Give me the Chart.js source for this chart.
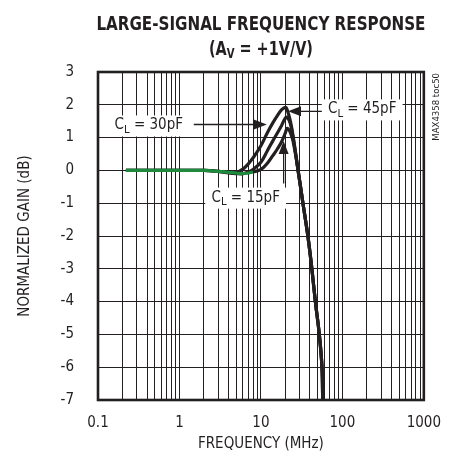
<!DOCTYPE html>
<html>
<head>
<meta charset="utf-8">
<script src="https://cdn.jsdelivr.net/npm/chart.js@4.4.1/dist/chart.umd.min.js"></script>
<style>
  html, body { margin: 0; padding: 0; background: #fff; }
  #wrap { width: 455px; height: 457px; position: relative; }
</style>
</head>
<body>
<div id="wrap"><canvas id="chart" width="455" height="457"></canvas></div>
<script>
// frequências (MHz) e ganhos
const freqs = [0.22, 0.5, 1, 2, 3, 4, 5, 6, 7, 8, 10, 12, 14, 16, 18, 20, 21, 23, 25, 28.6, 32.8, 37.7, 42.2, 46.6, 52.1, 56.2, 57.3];
const gain45 = [0, 0, 0, 0, -0.03, -0.06, -0.06, 0.04, 0.2, 0.38, 0.75, 1.15, 1.45, 1.68, 1.85, 1.92, 1.85, 1.5, 1.0, 0, -1.0, -2.0, -3.0, -4.0, -5.0, -6.0, -7.0];
const gain30 = [0, 0, 0, 0, -0.03, -0.08, -0.1, -0.1, -0.05, 0.03, 0.25, 0.6, 0.9, 1.15, 1.38, 1.6, 1.62, 1.42, 0.95, 0, -1.0, -2.0, -3.0, -4.0, -5.0, -6.0, -7.0];
const gain15 = [0, 0, 0, 0, -0.03, -0.06, -0.08, -0.1, -0.08, -0.05, 0.03, 0.22, 0.45, 0.66, 0.88, 1.15, 1.28, 1.15, 0.85, 0, -1.0, -2.0, -3.0, -4.0, -5.0, -6.0, -7.0];
const xTickLabels = [0.1, 1, 10, 100, 1000];
const yTicks = [3, 2, 1, 0, -1, -2, -3, -4, -5, -6, -7];

// anotações (coordenadas em dados)
const notes = [
  { text: '30pF', tx: 0.42, ty: 1.37, ax0: 1.5, ay0: 1.4, ax1: 11.8, ay1: 1.4 },
  { text: '45pF', tx: 175, ty: 1.86, ax0: 56, ay0: 1.8, ax1: 21.5, ay1: 1.8 },
  { text: '15pF', tx: 6.5, ty: -0.83, ax0: 19, ay0: -0.4, ax1: 19, ay1: 0.9 }
];

const INK = '#231f20';
const GREEN = '#1d8a3c';
const FONT = '"Liberation Sans Narrow", "DejaVu Sans Condensed", "Liberation Sans", sans-serif';

const mk = (arr, green) => ({
  data: freqs.map((f, i) => ({ x: f, y: arr[i] })),
  borderColor: INK,
  borderWidth: 3.2,
  pointRadius: 0,
  tension: 0.4,
  fill: false,
  segment: green ? { borderColor: c => (c.p1.parsed.x <= 8 ? GREEN : INK) } : undefined
});

function drawSub(ctx, x, y, main, sub, rest, size) {
  // "C" + subscrito "L" + resto, centralizado em x
  ctx.font = size + 'px ' + FONT;
  const w1 = ctx.measureText(main).width;
  const w3 = ctx.measureText(rest).width;
  ctx.font = (size * 0.75) + 'px ' + FONT;
  const w2 = ctx.measureText(sub).width;
  let cx = x - (w1 + w2 + w3) / 2;
  ctx.textBaseline = 'middle';
  ctx.textAlign = 'left';
  ctx.font = size + 'px ' + FONT;
  ctx.fillText(main, cx, y);
  cx += w1;
  ctx.font = (size * 0.75) + 'px ' + FONT;
  ctx.fillText(sub, cx, y + size * 0.3);
  cx += w2;
  ctx.font = size + 'px ' + FONT;
  ctx.fillText(rest, cx, y);
}

function arrow(ctx, x0, y0, x1, y1) {
  const ang = Math.atan2(y1 - y0, x1 - x0);
  const L = 13, W = 5;
  ctx.strokeStyle = INK;
  ctx.lineWidth = 1.3;
  ctx.beginPath();
  ctx.moveTo(x0, y0);
  ctx.lineTo(x1 - Math.cos(ang) * L, y1 - Math.sin(ang) * L);
  ctx.stroke();
  ctx.fillStyle = INK;
  ctx.beginPath();
  ctx.moveTo(x1, y1);
  ctx.lineTo(x1 - Math.cos(ang) * L - Math.sin(ang) * W, y1 - Math.sin(ang) * L + Math.cos(ang) * W);
  ctx.lineTo(x1 - Math.cos(ang) * L + Math.sin(ang) * W, y1 - Math.sin(ang) * L - Math.cos(ang) * W);
  ctx.closePath();
  ctx.fill();
}

const extras = {
  id: 'extras',
  afterDatasetsDraw(chart) {
    const ctx = chart.ctx;
    const xs = chart.scales.x, ys = chart.scales.y;
    const a = chart.chartArea;
    ctx.save();
    // anotações
    notes.forEach(n => {
      const px = xs.getPixelForValue(n.tx), py = ys.getPixelForValue(n.ty);
      ctx.font = '15px ' + FONT;
      const w = ctx.measureText('C = ' + n.text).width + 10;
      ctx.fillStyle = '#fff';
      ctx.fillRect(px - w / 2 - 4, py - 10, w + 8, 21);
      arrow(ctx, xs.getPixelForValue(n.ax0), ys.getPixelForValue(n.ay0), xs.getPixelForValue(n.ax1), ys.getPixelForValue(n.ay1));
      ctx.fillStyle = INK;
      drawSub(ctx, px, py, 'C', 'L', ' = ' + n.text, 15);
    });
    // moldura
    ctx.strokeStyle = INK;
    ctx.lineWidth = 2.6;
    ctx.strokeRect(a.left, a.top, a.right - a.left, a.bottom - a.top);
    // título
    ctx.fillStyle = INK;
    ctx.textAlign = 'center';
    ctx.textBaseline = 'middle';
    const cx = (a.left + a.right) / 2;
    ctx.font = 'bold 20px ' + FONT;
    const t = 'LARGE-SIGNAL FREQUENCY RESPONSE';
    const tw = ctx.measureText(t).width;
    ctx.save();
    ctx.translate(cx, 25);
    ctx.scale(329 / tw, 1);
    ctx.fillText(t, 0, 0);
    ctx.restore();
    // (AV = +1V/V), comprimido para a largura do original
    const p1 = '(A', p3 = ' = +1V/V)';
    ctx.font = 'bold 20px ' + FONT;
    const w1 = ctx.measureText(p1).width, w3 = ctx.measureText(p3).width;
    ctx.font = 'bold 14px ' + FONT;
    const w2 = ctx.measureText('V').width;
    const tot = w1 + w2 + w3;
    ctx.save();
    ctx.translate(cx, 50);
    ctx.scale(104 / tot, 1);
    ctx.textAlign = 'left';
    let sx = -tot / 2;
    ctx.font = 'bold 20px ' + FONT;
    ctx.fillText(p1, sx, 0);
    ctx.font = 'bold 14px ' + FONT;
    ctx.fillText('V', sx + w1, 4);
    ctx.font = 'bold 20px ' + FONT;
    ctx.fillText(p3, sx + w1 + w2, 0);
    ctx.restore();
    // código lateral
    ctx.save();
    ctx.translate(a.right + 13, a.top + 1);
    ctx.rotate(-Math.PI / 2);
    ctx.textAlign = 'right';
    ctx.font = '9.5px ' + FONT;
    ctx.fillText('MAX4358 toc50', 0, 0);
    ctx.restore();
    ctx.restore();
  }
};

new Chart(document.getElementById('chart').getContext('2d'), {
  type: 'line',
  data: {
    // o primeiro conjunto fica por cima
    datasets: [mk(gain15, true), mk(gain30, false), mk(gain45, false)]
  },
  plugins: [extras],
  options: {
    responsive: false,
    animation: false,
    layout: { padding: { top: 72, right: 27, left: 0, bottom: 0 } },
    plugins: { legend: { display: false }, tooltip: { enabled: false }, title: { display: false } },
    scales: {
      x: {
        type: 'logarithmic',
        min: 0.1,
        max: 1000,
        afterBuildTicks: s => {
          const t = [];
          for (let d = 0.1; d < 1000; d *= 10) {
            for (let k = 1; k < 10; k++) t.push({ value: +(d * k).toPrecision(3) });
          }
          t.push({ value: 1000 });
          s.ticks = t;
        },
        afterFit: s => { s.height = 57; },
        grid: { color: INK, lineWidth: 1, drawTicks: false },
        border: { display: false },
        ticks: {
          autoSkip: false,
          maxRotation: 0,
          padding: 14,
          color: INK,
          font: { family: FONT, size: 15 },
          callback: v => (xTickLabels.includes(v) ? String(v) : '')
        },
        title: { display: true, text: 'FREQUENCY (MHz)', color: INK, font: { family: FONT, size: 15 }, padding: { top: 4 } }
      },
      y: {
        min: -7,
        max: 3,
        afterBuildTicks: s => { s.ticks = yTicks.map(v => ({ value: v })); },
        afterFit: s => { s.width = 98; },
        grid: { color: INK, lineWidth: 1, drawTicks: false },
        border: { display: false },
        ticks: { padding: 24, color: INK, font: { family: FONT, size: 15 } },
        title: { display: true, text: 'NORMALIZED GAIN (dB)', color: INK, font: { family: FONT, size: 15 }, padding: { top: 16, bottom: 0 } }
      }
    }
  }
});
</script>
</body>
</html>
